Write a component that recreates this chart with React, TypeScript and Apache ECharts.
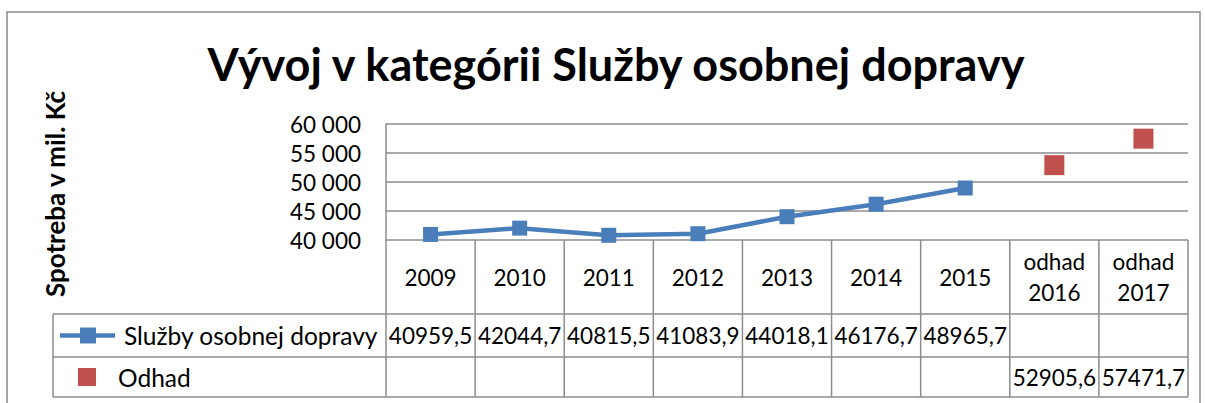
import React, { useEffect, useRef } from "react";
import * as echarts from "echarts";

const title = "Vývoj v kategórii Služby osobnej dopravy";
const yAxisTitle = "Spotreba v mil. Kč";
const categories = ["2009", "2010", "2011", "2012", "2013", "2014", "2015", "odhad\n2016", "odhad\n2017"];
const seriesNames = ["Služby osobnej dopravy", "Odhad"];
const sluzby: (number | null)[] = [40959.5, 42044.7, 40815.5, 41083.9, 44018.1, 46176.7, 48965.7, null, null];
const odhad: (number | null)[] = [null, null, null, null, null, null, null, 52905.6, 57471.7];
const yMin = 40000;
const yMax = 60000;
const yStep = 5000;

const FONT = "Lato";
const GRID = "#8c8c8c";
const BLUE = "#4a7ebb";
const RED = "#c0504d";

const fmtTick = (v: number) => String(v).replace(/\B(?=(\d{3})+(?!\d))/g, " ");
const fmtVal = (v: number) => v.toFixed(1).replace(".", ",");

export default function App() {
  const ref = useRef<HTMLDivElement>(null);
  useEffect(() => {
    document.body.style.margin = "0";
    const chart = echarts.init(ref.current!, undefined, { renderer: "svg" });
    chart.setOption({
      animation: false,
      textStyle: { fontFamily: FONT },
      title: {
        text: title,
        left: 611,
        top: 36,
        textAlign: "center",
        textStyle: { fontFamily: FONT, fontWeight: "bold", fontSize: 45, color: "#000" },
      },
      grid: { left: 386, top: 124, width: 802, height: 116, containLabel: false },
      xAxis: {
        type: "category",
        data: categories,
        boundaryGap: true,
        axisLine: { show: false },
        axisTick: { show: false },
        splitLine: { show: false },
        axisLabel: {
          margin: 37,
          verticalAlign: "middle",
          fontSize: 22.5,
          lineHeight: 31,
          color: "#000",
          fontFamily: FONT,
          interval: 0,
        },
      },
      yAxis: {
        type: "value",
        min: yMin,
        max: yMax,
        interval: yStep,
        axisLine: { show: true, lineStyle: { color: GRID, width: 1.5 } },
        axisTick: { show: false },
        axisLabel: { formatter: fmtTick, fontSize: 22.5, color: "#000", margin: 25, fontFamily: FONT },
        splitLine: { show: true, lineStyle: { color: GRID, width: 1.5 } },
      },
      series: [
        {
          name: seriesNames[0],
          type: "line",
          data: sluzby,
          symbol: "rect",
          symbolSize: 15,
          lineStyle: { color: BLUE, width: 4.5 },
          itemStyle: { color: BLUE },
          connectNulls: false,
        },
        {
          name: seriesNames[1],
          type: "scatter",
          data: odhad,
          symbol: "rect",
          symbolSize: 20,
          itemStyle: { color: RED, opacity: 1 },
        },
      ],
    });

    const xs = categories.map((_, i) => chart.convertToPixel({ xAxisIndex: 0 }, i) as number);
    const step = xs[1] - xs[0];
    const bounds = categories.map((_, i) => xs[i] - step / 2).concat([xs[xs.length - 1] + step / 2]);
    const y0 = chart.convertToPixel({ yAxisIndex: 0 }, yMin) as number;
    const rowA = 314;
    const rowB = 357;
    const rowC = 397;
    const tableLeft = 53;
    const right = bounds[bounds.length - 1];
    const ls = { stroke: GRID, lineWidth: 1.5 };
    const g: any[] = [];
    g.push({ type: "rect", shape: { x: 7, y: 12, width: 1193, height: 420 }, style: { fill: "none", stroke: GRID, lineWidth: 1.5 }, silent: true });
    [rowA, rowB, rowC].forEach((y) => g.push({ type: "line", shape: { x1: tableLeft, y1: y, x2: right, y2: y }, style: ls }));
    g.push({ type: "line", shape: { x1: tableLeft, y1: rowA, x2: tableLeft, y2: rowC }, style: ls });
    bounds.forEach((x) => g.push({ type: "line", shape: { x1: x, y1: y0, x2: x, y2: rowC }, style: ls }));
    const mid1 = (rowA + rowB) / 2;
    const mid2 = (rowB + rowC) / 2;
    sluzby.forEach((v, i) => {
      if (v != null) g.push({ type: "text", x: xs[i], y: mid1, style: { text: fmtVal(v), font: `22.5px ${FONT}`, fill: "#000", textAlign: "center", textVerticalAlign: "middle" } });
    });
    odhad.forEach((v, i) => {
      if (v != null) g.push({ type: "text", x: xs[i], y: mid2, style: { text: fmtVal(v), font: `22.5px ${FONT}`, fill: "#000", textAlign: "center", textVerticalAlign: "middle" } });
    });
    // legend keys in the data table
    g.push({ type: "line", shape: { x1: 60, y1: mid1, x2: 115, y2: mid1 }, style: { stroke: BLUE, lineWidth: 4.5 } });
    g.push({ type: "rect", shape: { x: 80, y: mid1 - 8, width: 16, height: 16 }, style: { fill: BLUE } });
    g.push({ type: "text", x: 124, y: mid1, style: { text: seriesNames[0], font: `24.5px ${FONT}`, fill: "#000", textAlign: "left", textVerticalAlign: "middle" } });
    g.push({ type: "rect", shape: { x: 78, y: mid2 - 9, width: 18, height: 18 }, style: { fill: RED } });
    g.push({ type: "text", x: 118, y: mid2, style: { text: seriesNames[1], font: `24.5px ${FONT}`, fill: "#000", textAlign: "left", textVerticalAlign: "middle" } });
    g.push({
      type: "text",
      x: 55,
      y: 194,
      rotation: Math.PI / 2,
      style: { text: yAxisTitle, font: `bold 26px ${FONT}`, fill: "#000", textAlign: "center", textVerticalAlign: "middle" },
    });
    chart.setOption({ graphic: g });
    return () => chart.dispose();
  }, []);
  return <div ref={ref} style={{ width: 1205, height: 403 }} />;
}
